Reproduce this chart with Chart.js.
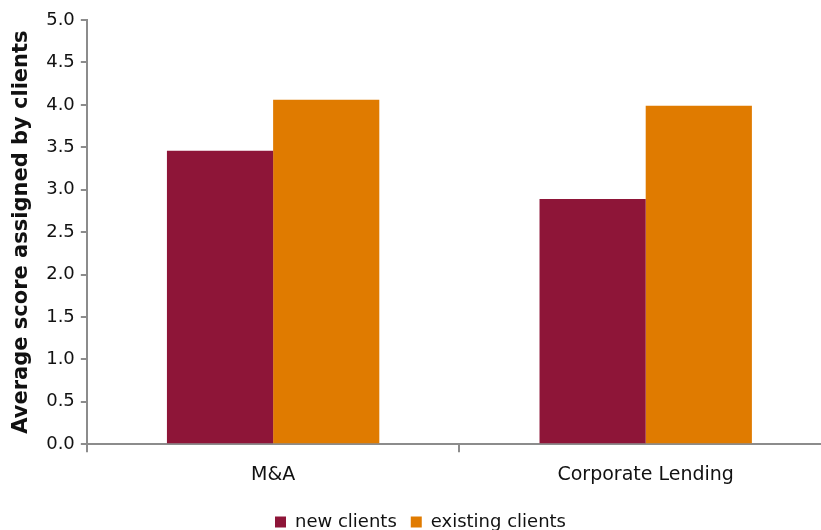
<!DOCTYPE html>
<html>
<head>
<meta charset="utf-8">
<script src="https://cdn.jsdelivr.net/npm/chart.js@4.4.0/dist/chart.umd.min.js"></script>
<style>
  html, body { margin: 0; padding: 0; background: #fff; overflow: hidden; }
  #wrap { width: 832px; height: 541px; }
</style>
</head>
<body>
<div id="wrap"><canvas id="barChart"></canvas></div>
<script>
var categories = ["M&A", "Corporate Lending"];
var newClients = [3.46, 2.89];
var existingClients = [4.06, 3.99];

var axisGrey = '#8c8c8c';
Chart.defaults.font.family = "'DejaVu Sans', Verdana, sans-serif";
Chart.defaults.color = '#111';

var ctx = document.getElementById("barChart").getContext('2d');
var myBarChart = new Chart(ctx, {
    type: 'bar',
    data: {
        labels: categories,
        datasets: [{
            label: "new clients",
            data: newClients,
            backgroundColor: '#8e1538',
            borderWidth: 0
        }, {
            label: "existing clients",
            data: existingClients,
            backgroundColor: '#e07b00',
            borderWidth: 0
        }]
    },
    options: {
        responsive: true,
        maintainAspectRatio: false,
        animation: false,
        layout: { padding: { top: 20, left: 9, right: 0, bottom: 0 } },
        datasets: {
            bar: { barPercentage: 1.0, categoryPercentage: 0.57 }
        },
        plugins: {
            legend: {
                position: 'bottom',
                labels: {
                    font: { size: 18 },
                    boxWidth: 11,
                    boxHeight: 11,
                    padding: 14
                }
            },
            tooltip: { enabled: false }
        },
        scales: {
            x: {
                grid: {
                    offset: true,
                    drawOnChartArea: false,
                    tickLength: 8,
                    color: axisGrey,
                    lineWidth: 2
                },
                border: { color: axisGrey, width: 2 },
                ticks: { font: { size: 19 }, padding: 11 },
                afterFit: function (scale) { scale.height += 2; }
            },
            y: {
                min: 0,
                max: 5,
                grid: {
                    drawOnChartArea: false,
                    tickLength: 6,
                    color: axisGrey,
                    lineWidth: 2
                },
                border: { color: axisGrey, width: 2 },
                ticks: {
                    stepSize: 0.5,
                    font: { size: 18 },
                    padding: 6,
                    callback: function (v) { return v.toFixed(1); }
                },
                title: {
                    display: true,
                    text: "Average score assigned by clients",
                    font: { size: 21, weight: 'bold' },
                    padding: { top: 0, bottom: 6 }
                }
            }
        }
    }
});
</script>
</body>
</html>
